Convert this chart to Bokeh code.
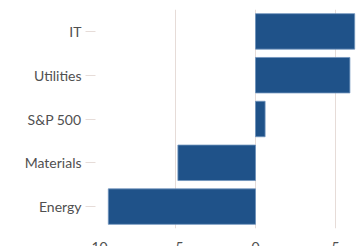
from bokeh.plotting import figure
from bokeh.models import FactorRange, Range1d, FixedTicker
from bokeh.embed import file_html
from bokeh.resources import INLINE

categories = ["Energy", "Materials", "S&P 500", "Utilities", "IT"]
values = [-9.2, -4.85, 0.6, 5.9, 6.2]
x_ticks = [-10, -5, 0, 5]

p = figure(width=357, height=254, output_backend="svg", toolbar_location=None,
           y_range=FactorRange(*categories, range_padding=0),
           x_range=Range1d(-10, 6.375),
           min_border_left=95, min_border_right=0, min_border_top=9, min_border_bottom=0)
p.outline_line_color = None
p.hbar(y=categories, right=values, left=0, height=0.81,
       fill_color="#1f5289", line_color="#6f93bd", line_width=0.8)

p.xaxis.ticker = FixedTicker(ticks=x_ticks)
p.xaxis.axis_line_color = None
p.xaxis.major_tick_line_color = None
p.xaxis.minor_tick_line_color = None
p.xaxis.major_label_standoff = 7
p.xaxis.major_label_text_font = "Lato"
p.xaxis.major_label_text_font_size = "14px"
p.xaxis.major_label_text_color = "#505050"

p.yaxis.axis_line_color = None
p.yaxis.major_tick_line_color = "#e6dcd8"
p.yaxis.major_tick_out = 10
p.yaxis.major_tick_in = 0
p.yaxis.major_label_standoff = 4
p.yaxis.major_label_text_font = "Lato"
p.yaxis.major_label_text_font_size = "14px"
p.yaxis.major_label_text_color = "#505050"

p.ygrid.grid_line_color = None
p.xgrid.grid_line_color = "#e6dcd8"
p.xgrid.grid_line_width = 1

open("out.html", "w").write(file_html(p, INLINE))
